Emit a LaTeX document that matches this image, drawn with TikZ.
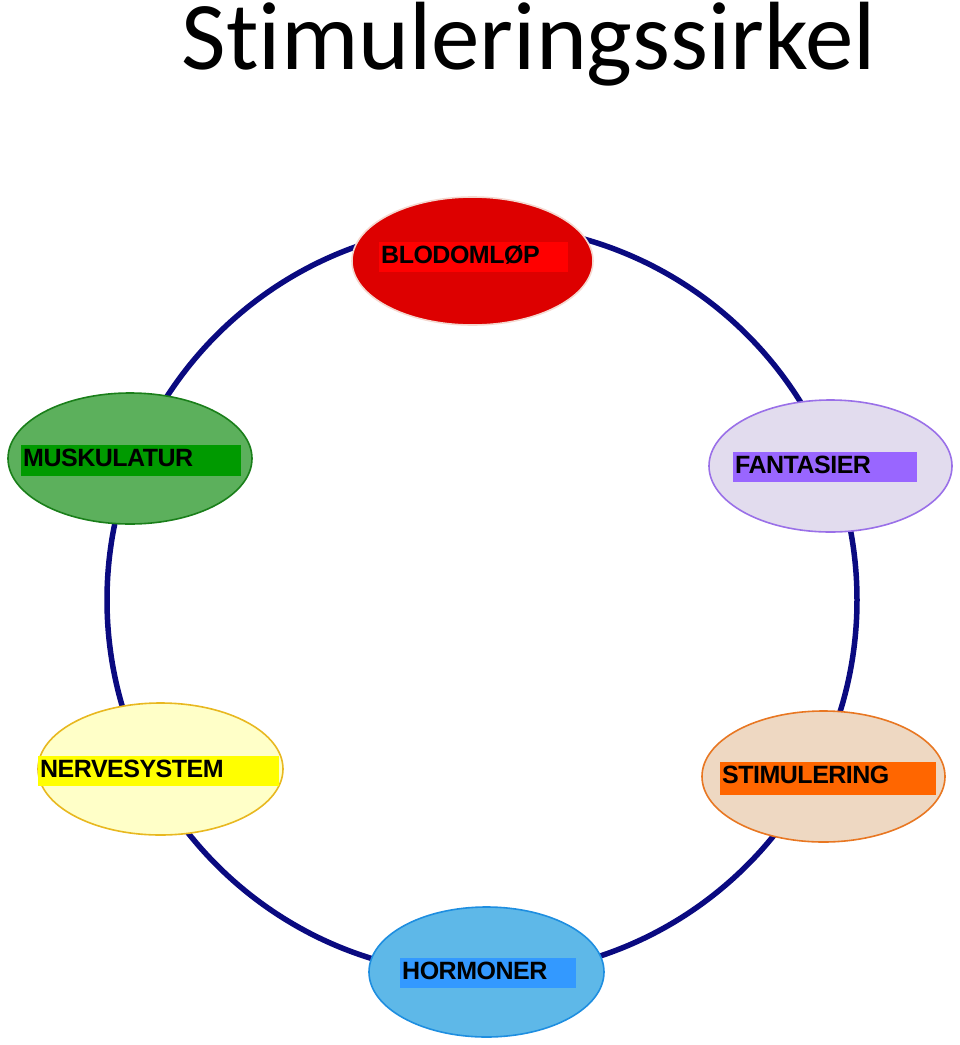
\documentclass[tikz,border=0pt]{standalone}
\usepackage{fontspec}
\setmainfont{Liberation Sans}
\newfontfamily\titlefont{Carlito}[Ligatures={NoCommon,NoRare}]
\newfontfamily\labfont{Liberation Sans}[LetterSpace=-2]
\usetikzlibrary{shapes.geometric}
\definecolor{ringblue}{HTML}{0A0A80}
\definecolor{redfill}{HTML}{DD0000}
\definecolor{redlab}{HTML}{FF0000}
\definecolor{redline}{HTML}{F4D8D0}
\definecolor{grnfill}{HTML}{5CB05C}
\definecolor{grnline}{HTML}{1A7F1A}
\definecolor{grnlab}{HTML}{009A00}
\definecolor{purfill}{HTML}{E2DCEE}
\definecolor{purline}{HTML}{9A70E8}
\definecolor{purlab}{HTML}{9966FF}
\definecolor{yelfill}{HTML}{FFFFC8}
\definecolor{yelline}{HTML}{E8B820}
\definecolor{yellab}{HTML}{FFFF00}
\definecolor{orafill}{HTML}{EED8C2}
\definecolor{oraline}{HTML}{E87722}
\definecolor{oralab}{HTML}{FF6600}
\definecolor{blufill}{HTML}{5EB8E8}
\definecolor{bluline}{HTML}{1E8EE0}
\definecolor{blulab}{HTML}{3399FF}
\begin{document}
\begin{tikzpicture}[x=1pt,y=-1pt,
  oval/.style={ellipse, draw, line width=1.6pt, inner sep=0pt},
  lab/.style={anchor=north west, inner xsep=2pt, inner ysep=2pt,
    text height=19pt, text depth=7pt, align=left,
    font=\labfont\bfseries\fontsize{25}{25}\selectfont},
]
\useasboundingbox (0,0) rectangle (960,1045);
\node (title) [anchor=base, inner sep=0pt, text height=62pt, text depth=0pt, font=\titlefont\fontsize{97}{97}\selectfont] at (529,69) {Stimuleringssirkel};
\node (ring) [circle, draw=ringblue, line width=5.5pt, minimum size=750pt, inner sep=0pt] at (482,600) {};
% ovals
\node (blod) [oval, draw=redline, fill=redfill, minimum width=241pt, minimum height=128pt] at (472.5,261) {};
\node (musk) [oval, draw=grnline, fill=grnfill, minimum width=244pt, minimum height=131pt] at (130,458.5) {};
\node (fant) [oval, draw=purline, fill=purfill, minimum width=243pt, minimum height=132pt] at (830.5,466) {};
\node (nerv) [oval, draw=yelline, fill=yelfill, minimum width=245pt, minimum height=132pt] at (160.5,769) {};
\node (stim) [oval, draw=oraline, fill=orafill, minimum width=243pt, minimum height=131pt] at (823.5,776.5) {};
\node (horm) [oval, draw=bluline, fill=blufill, minimum width=235pt, minimum height=130pt] at (486.5,972) {};
% labels
\node (lblod) [lab, fill=redlab, text width=185pt] at (379,242) {BLODOMLØP};
\node (lmusk) [lab, fill=grnlab, text width=216pt, text depth=8pt] at (21,445) {MUSKULATUR};
\node (lfant) [lab, fill=purlab, text width=180pt] at (733,452) {FANTASIER};
\node (lnerv) [lab, fill=yellab, text width=237pt] at (38,756) {NERVESYSTEM};
\node (lstim) [lab, fill=oralab, text width=212pt, text depth=10pt] at (720,762) {STIMULERING};
\node (lhorm) [lab, fill=blulab, text width=172pt] at (400,958) {HORMONER};
\end{tikzpicture}
\end{document}
